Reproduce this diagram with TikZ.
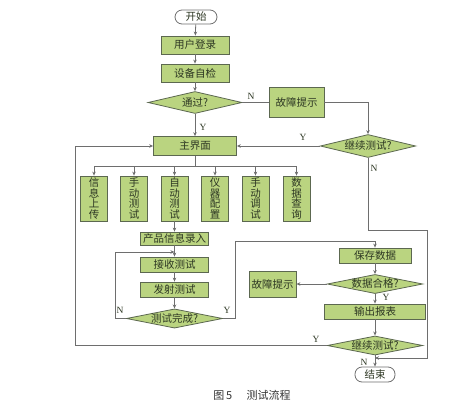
\documentclass[tikz,border=0pt]{standalone}
\usepackage{fontspec}
\setmainfont{Liberation Serif}
\newfontfamily\cjk{Noto Sans CJK SC}
\usetikzlibrary{shapes.geometric,arrows.meta}
\definecolor{boxfill}{RGB}{186,212,128}
\definecolor{boxline}{RGB}{92,104,80}
\definecolor{conn}{RGB}{110,110,110}
\definecolor{txt}{RGB}{45,55,35}
\tikzset{
  box/.style={draw=boxline, fill=boxfill, line width=0.8pt, inner sep=0pt,
    text=txt, font=\cjk\fontsize{10.5}{11}\selectfont},
  vbox/.style={box, minimum width=27pt, minimum height=45pt, align=center,
    font=\cjk\fontsize{10.5}{10.6}\selectfont},
  dia/.style={diamond, draw=boxline, fill=boxfill, line width=0.8pt, inner sep=0pt,
    aspect=5, text=txt, font=\cjk\fontsize{10.5}{11}\selectfont},
  term/.style={draw=conn, fill=white, rounded corners=7pt, line width=0.8pt,
    inner sep=0pt, minimum width=42pt, minimum height=14pt, text=txt,
    font=\cjk\fontsize{10.5}{11}\selectfont},
  conn/.style={draw=conn, line width=0.8pt},
  arr/.style={conn, -{Stealth[length=4pt,width=3.5pt]}},
  lab/.style={font=\fontsize{9.5}{10}\selectfont, text=txt, inner sep=0pt}
}
\begin{document}
\begin{tikzpicture}[x=1pt,y=-1pt]
\useasboundingbox (0,0) rectangle (465,404);
% top part
\node[term] (start) at (196,17) {开始};
\node[box, minimum width=68pt, minimum height=18pt] (login) at (195,45) {用户登录};
\node[box, minimum width=68pt, minimum height=18pt] (check) at (195,73) {设备自检};
\node[dia, minimum width=94pt, minimum height=22pt] (pass) at (195,102.5) {通过?};
\node[box, minimum width=55pt, minimum height=30pt] (fault1) at (296.5,102.5) {故障提示};
\node[dia, minimum width=91pt, minimum height=23pt] (cont1) at (368,146) {继续测试?};
\node[box, minimum width=83pt, minimum height=19pt] (main) at (195,146) {主界面};
% six function boxes
\node[vbox] (f1) at (94,198.5) {信\\息\\上\\传};
\node[vbox] (f2) at (134,198.5) {手\\动\\测\\试};
\node[vbox] (f3) at (174.5,198.5) {自\\动\\测\\试};
\node[vbox] (f4) at (215,198.5) {仪\\器\\配\\置};
\node[vbox] (f5) at (255.5,198.5) {手\\动\\调\\试};
\node[vbox] (f6) at (296.5,198.5) {数\\据\\查\\询};
% auto test branch
\node[box, minimum width=68pt, minimum height=13pt] (info) at (174.5,238.5) {产品信息录入};
\node[box, minimum width=68pt, minimum height=15pt] (recv) at (174.5,264.5) {接收测试};
\node[box, minimum width=68pt, minimum height=15pt] (send) at (174.5,289.5) {发射测试};
\node[dia, minimum width=93pt, minimum height=18pt] (done) at (174.5,318.5) {测试完成?};
% right column
\node[box, minimum width=72pt, minimum height=15pt] (save) at (375,255.5) {保存数据};
\node[dia, minimum width=93pt, minimum height=18pt] (ok) at (375,284) {数据合格?};
\node[box, minimum width=47pt, minimum height=26pt] (fault2) at (272.5,284) {故障提示};
\node[box, minimum width=101pt, minimum height=15pt] (report) at (375,311.5) {输出报表};
\node[dia, minimum width=93pt, minimum height=17pt] (cont2) at (375,345.5) {继续测试?};
\node[term, minimum width=40pt, minimum height=15pt] (end) at (375,374.5) {结束};
% connectors top
\draw[arr] (start) -- (login);
\draw[arr] (login) -- (check);
\draw[arr] (check) -- (pass);
\draw[arr] (pass) -- (main);
\draw[conn] (pass.east) -- (fault1.west);
\draw[arr] (fault1.east) -| (cont1.north);
\draw[arr] (cont1.west) -- (main.east);
\node[lab] (ly1) at (203,127) {Y};
\node[lab] (ln1) at (251,96) {N};
\node[lab] (ly2) at (303,137) {Y};
\node[lab] (ln2) at (374,168) {N};
% branch to six boxes
\coordinate (bl) at (94,166.5);
\coordinate (br) at (296.5,166.5);
\draw[conn] (main.south) -- (main.south |- bl);
\draw[conn] (bl) -- (br);
\foreach \b in {f1,f2,f3,f4,f5,f6} \draw[arr] (\b.north |- bl) -- (\b.north);
% auto test chain
\draw[arr] (f3) -- (info);
\draw[arr] (info) -- (recv);
\draw[arr] (recv) -- (send);
\draw[arr] (send) -- (done);
\coordinate (lp1) at (115,318.5);
\coordinate (lp2) at (115,252);
\coordinate (lp3) at (174.5,252);
\draw[arr] (done.west) -- (lp1) -- (lp2) -- (lp3);
\node[lab] (ln3) at (120,310) {N};
\node[lab] (ly3) at (227,310) {Y};
\coordinate (yp1) at (235,318.5);
\coordinate (yp2) at (235,241);
\draw[arr] (done.east) -- (yp1) -- (yp2) -| (save.north);
% right column connectors
\draw[arr] (save) -- (ok);
\draw[arr] (ok.west) -- (fault2.east);
\draw[arr] (ok) -- (report);
\node[lab] (ly4) at (386,297.5) {Y};
\draw[arr] (report) -- (cont2);
\draw[arr] (cont2) -- (end);
\node[lab] (ln4) at (364,362) {N};
% left big loop
\coordinate (ll1) at (75,345.5);
\coordinate (ll2) at (75,146);
\draw[arr] (cont2.west) -- (ll1) -- (ll2) -- (main.west);
\node[lab] (ly5) at (316,339) {Y};
% right N loop
\coordinate (rn1) at (368,230);
\coordinate (rn2) at (427,230);
\coordinate (rn3) at (427,358);
\coordinate (rn4) at (375,358);
\draw[arr] (cont1.south) -- (rn1) -- (rn2) -- (rn3) -- (rn4);
% caption
\node[font=\cjk\fontsize{11}{12}\selectfont, text=black!80] (cap) at (252,395) {图\,5\hspace{1.3em}测试流程};
\end{tikzpicture}
\end{document}
